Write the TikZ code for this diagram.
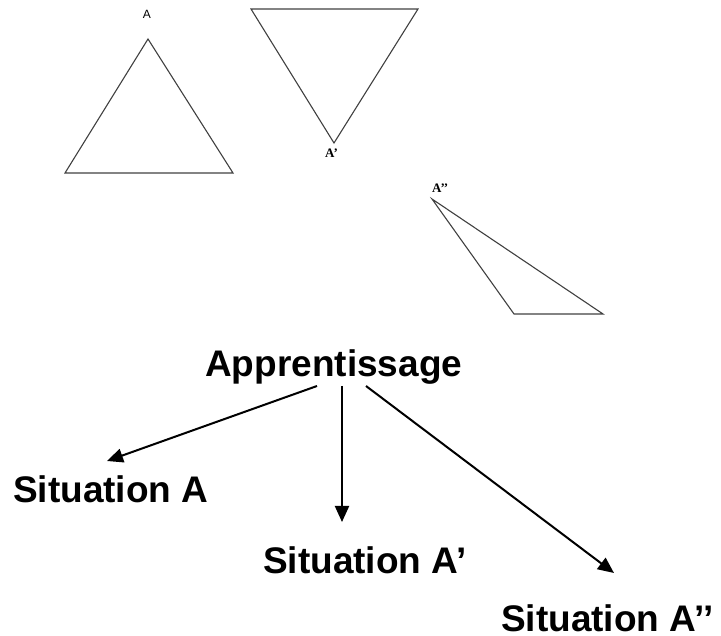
\documentclass[tikz,border=0pt]{standalone}
\usepackage{fontspec}
\setmainfont{Liberation Sans}
\newfontfamily\serifsmall{Liberation Serif}
\usetikzlibrary{arrows.meta}
\tikzset{
  tri/.style={draw=black!75, line width=1.1pt, line join=miter},
  bigtext/.style={inner sep=0pt, font=\fontsize{37}{40}\selectfont\bfseries},
  smalllab/.style={inner sep=0pt, font=\fontsize{12}{14}\selectfont},
  seriflab/.style={inner sep=0pt, font=\serifsmall\fontsize{13}{15}\selectfont\bfseries},
  arr/.style={draw=black, line width=2pt, -{Triangle[length=16pt,width=14pt]}}
}
\begin{document}
\begin{tikzpicture}[x=1pt,y=-1pt]
\useasboundingbox (0,0) rectangle (721,636);
% triangle A
\coordinate (a1) at (148,39);
\coordinate (a2) at (65,173);
\coordinate (a3) at (233,173);
\draw[tri] (a1) -- (a2) -- (a3) -- cycle;
\node[smalllab, anchor=base] (la) at (147,19) {A};
% triangle A'
\coordinate (b1) at (251,9);
\coordinate (b2) at (418,9);
\coordinate (b3) at (334,143);
\draw[tri] (b1) -- (b2) -- (b3) -- cycle;
\node[seriflab, anchor=base west] (lb) at (325,158) {A’};
% triangle A''
\coordinate (c1) at (432,199);
\coordinate (c2) at (514,314);
\coordinate (c3) at (603,314);
\draw[tri] (c1) -- (c2) -- (c3) -- cycle;
\node[seriflab, anchor=base west] (lc) at (432,193) {A’’};
% diagram
\node[bigtext, anchor=base west] (app) at (205,377) {Apprentissage};
\node[bigtext, anchor=base west] (sa) at (13,503) {Situation A};
\node[bigtext, anchor=base west] (sb) at (263,573) {Situation A’};
\node[bigtext, text depth=0pt, anchor=base west] (sc) at (501,631) {Situation A’’};
\coordinate (s1) at (317,386);
\coordinate (s2) at (342,386);
\coordinate (s3) at (366,386);
\coordinate (t1) at (107,461);
\coordinate (t2) at (342,522);
\coordinate (t3) at (614,573);
\draw[arr] (s1) -- (t1);
\draw[arr] (s2) -- (t2);
\draw[arr] (s3) -- (t3);
\end{tikzpicture}
\end{document}
